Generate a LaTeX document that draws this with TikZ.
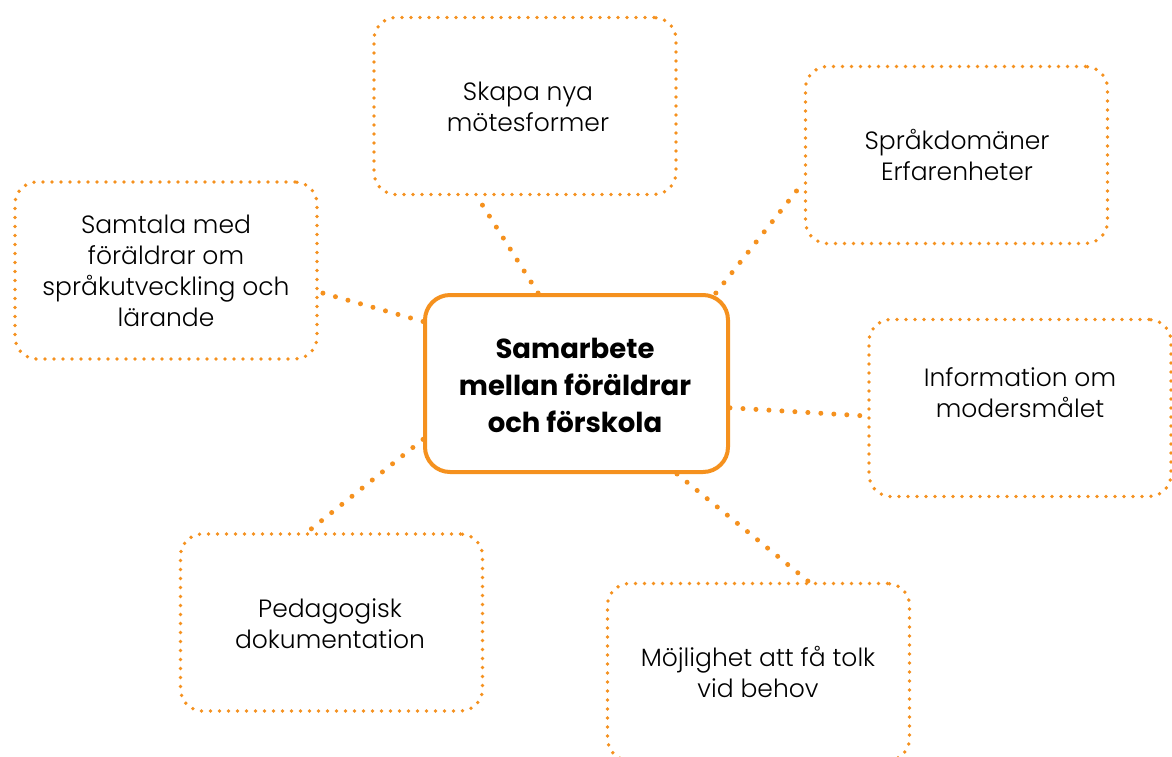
\documentclass[tikz,border=0pt]{standalone}
\usepackage{fontspec}
\setmainfont{Poppins}[UprightFont=* Light, BoldFont=* Bold]
\definecolor{orng}{RGB}{245,145,30}
\tikzset{
  dotbox/.style={draw=orng, line width=3.8pt, dash pattern=on 0pt off 9pt, line cap=round,
    rounded corners=22pt, minimum width=302pt, minimum height=177pt, inner sep=0pt, fill=white},
  mainbox/.style={draw=orng, line width=4pt, rounded corners=25pt,
    minimum width=303pt, minimum height=177pt, inner sep=0pt, fill=white},
  link/.style={draw=orng, line width=5pt, dash pattern=on 0pt off 13pt, line cap=round},
  txt/.style={align=center, font=\fontsize{25}{31}\selectfont, inner sep=0pt},
  btxt/.style={align=center, font=\fontsize{27.5}{37}\selectfont\bfseries, inner sep=0pt}
}
\begin{document}
\begin{tikzpicture}[x=1pt,y=-1pt]
\useasboundingbox (0,0) rectangle (1172,756);
\clip (0,0) rectangle (1172,756);
\fill[white] (0,0) rectangle (1172,756);
% boxes
\node[mainbox] (c) at (576.5,383.5) {};
\node[dotbox] (t) at (525,106) {};
\node[dotbox] (rt) at (956.5,155) {};
\node[dotbox] (l) at (166,270.5) {};
\node[dotbox] (r) at (1020,408) {};
\node[dotbox] (bl) at (331.5,622.5) {};
\node[dotbox] (br) at (758.5,672) {};
% connectors
\draw[link] (c.113.5) -- (t.242);
\draw[link] (c.33.4) -- (rt.190.5);
\draw[link] (c.158.4) -- (l.-8.5);
\draw[link] (c.-9.5) -- (r.183.8);
\draw[link] (c.200.3) -- (bl.105.1);
\draw[link] (c.-42.3) -- (br.61.7);
% texts
\node[btxt] (ct) at (575,385) {Samarbete\\mellan föräldrar\\och förskola};
\node[txt] (tt) at (528,107) {Skapa nya\\mötesformer};
\node[txt] (rtt) at (957,155) {Språkdomäner\\Erfarenheter};
\node[txt] (lt) at (166,271) {Samtala med\\föräldrar om\\språkutveckling och\\lärande};
\node[txt] (rtx) at (1020,393) {Information om\\modersmålet};
\node[txt] (blt) at (330,624) {Pedagogisk\\dokumentation};
\node[txt] (brt) at (758,672) {Möjlighet att få tolk\\vid behov};
\end{tikzpicture}
\end{document}
